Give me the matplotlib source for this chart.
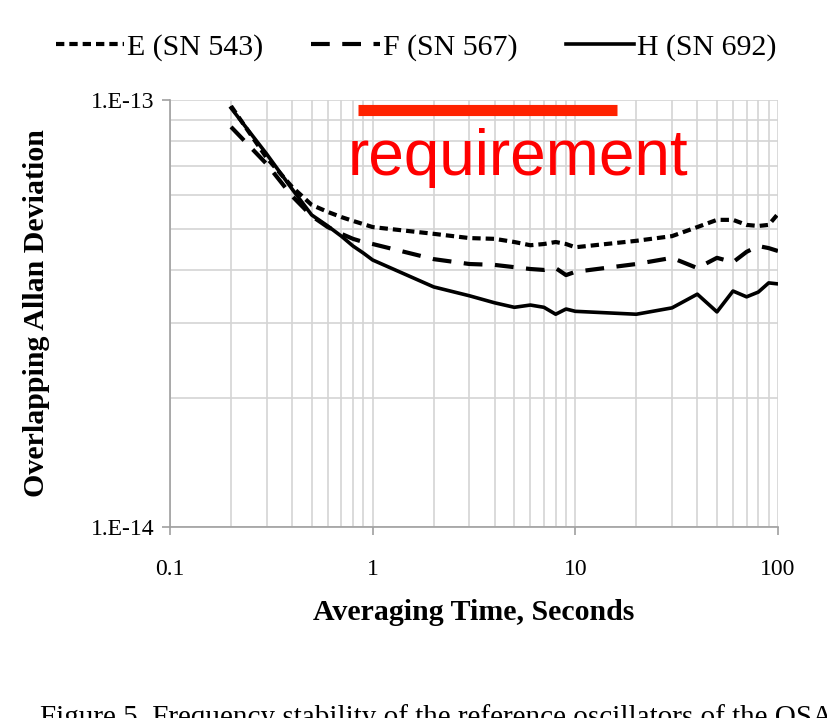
import matplotlib.pyplot as plt
from matplotlib.ticker import FixedLocator, NullFormatter

# averaging times (s)
tau = [0.2, 0.3, 0.4, 0.5, 0.6, 0.7, 0.8, 0.9,
       1, 2, 3, 4, 5, 6, 7, 8, 9,
       10, 20, 30, 40, 50, 60, 70, 80, 90, 100]

# overlapping Allan deviation, units of 1e-14
adev_e = [9.68, 7.32, 6.26, 5.68, 5.47, 5.32, 5.21, 5.12,
          5.04, 4.86, 4.75, 4.73, 4.65, 4.57, 4.60, 4.65, 4.60,
          4.52, 4.68, 4.80, 5.04, 5.24, 5.24, 5.10, 5.07, 5.10, 5.41]
adev_f = [8.65, 7.08, 5.96, 5.35, 5.04, 4.86, 4.73, 4.65,
          4.60, 4.24, 4.13, 4.11, 4.06, 4.02, 4.00, 4.04, 3.89,
          3.96, 4.13, 4.27, 4.04, 4.27, 4.17, 4.41, 4.55, 4.50, 4.43]
adev_h = [9.58, 7.47, 6.19, 5.38, 5.07, 4.80, 4.55, 4.38,
          4.22, 3.65, 3.48, 3.35, 3.27, 3.31, 3.27, 3.15, 3.24,
          3.20, 3.15, 3.26, 3.51, 3.19, 3.57, 3.46, 3.55, 3.73, 3.71]

req_tau = [0.85, 16.0]
req_level = 9.5

x_ticks = [0.1, 1, 10, 100]
x_tick_labels = ['0.1', '1', '10', '100']
y_ticks = [1e-14, 1e-13]
y_tick_labels = ['1.E-14', '1.E-13']

plt.rcParams['font.family'] = ['Liberation Serif', 'DejaVu Serif']

fig = plt.figure(figsize=(8.27, 7.18), dpi=100)
ax = fig.add_axes([0.2056, 0.266, 0.7351, 0.5947])

scale = 1e-14
ax.plot(tau, [v * scale for v in adev_e], color='black', lw=3.0,
        dashes=(2.0, 1.2), label='E (SN 543)')
ax.plot(tau, [v * scale for v in adev_f], color='black', lw=3.0,
        dashes=(4.5, 3.0), label='F (SN 567)')
ax.plot(tau, [v * scale for v in adev_h], color='black', lw=2.6,
        label='H (SN 692)')

# requirement marker
ax.plot(req_tau, [req_level * scale] * 2, color='#ff2200', lw=8,
        solid_capstyle='butt', zorder=5)
ax.text(0.755, 6.67e-14, 'requirement', color='red', fontsize=46,
        family=['Liberation Sans', 'DejaVu Sans'], va='baseline', ha='left')

ax.set_xscale('log')
ax.set_yscale('log')
ax.set_xlim(0.1, 100)
ax.set_ylim(1e-14, 1e-13)

ax.xaxis.set_major_locator(FixedLocator(x_ticks))
ax.set_xticklabels(x_tick_labels)
ax.yaxis.set_major_locator(FixedLocator(y_ticks))
ax.set_yticklabels(y_tick_labels)
ax.xaxis.set_minor_formatter(NullFormatter())
ax.yaxis.set_minor_formatter(NullFormatter())

ax.grid(True, which='both', color='#d4d4d4', lw=1.2)
ax.tick_params(which='major', length=6, width=1.2, color='#a0a0a0',
               labelsize=17)
ax.tick_params(which='minor', length=0)
ax.tick_params(axis='x', pad=17)
ax.tick_params(axis='y', pad=5)
for side in ['top', 'right']:
    ax.spines[side].set_visible(False)
for side in ['left', 'bottom']:
    ax.spines[side].set_color('#a0a0a0')
    ax.spines[side].set_linewidth(1.2)

ax.set_xlabel('Averaging Time, Seconds', fontsize=21.5, fontweight='bold',
              labelpad=14)
ax.set_ylabel('Overlapping Allan Deviation', fontsize=21.5, fontweight='bold')
ax.yaxis.set_label_coords(-0.197, 0.5)

leg = ax.legend(loc='center', bbox_to_anchor=(0.405, 1.124), ncol=3,
                frameon=False, fontsize=21.5, handlelength=2.3,
                handletextpad=0.1, columnspacing=1.6)

fig.text(0.048, 0.0, 'Figure 5. Frequency stability of the reference oscillators of the OSA',
         fontsize=21, va='center', ha='left')

fig.savefig('out.png', dpi=100)
